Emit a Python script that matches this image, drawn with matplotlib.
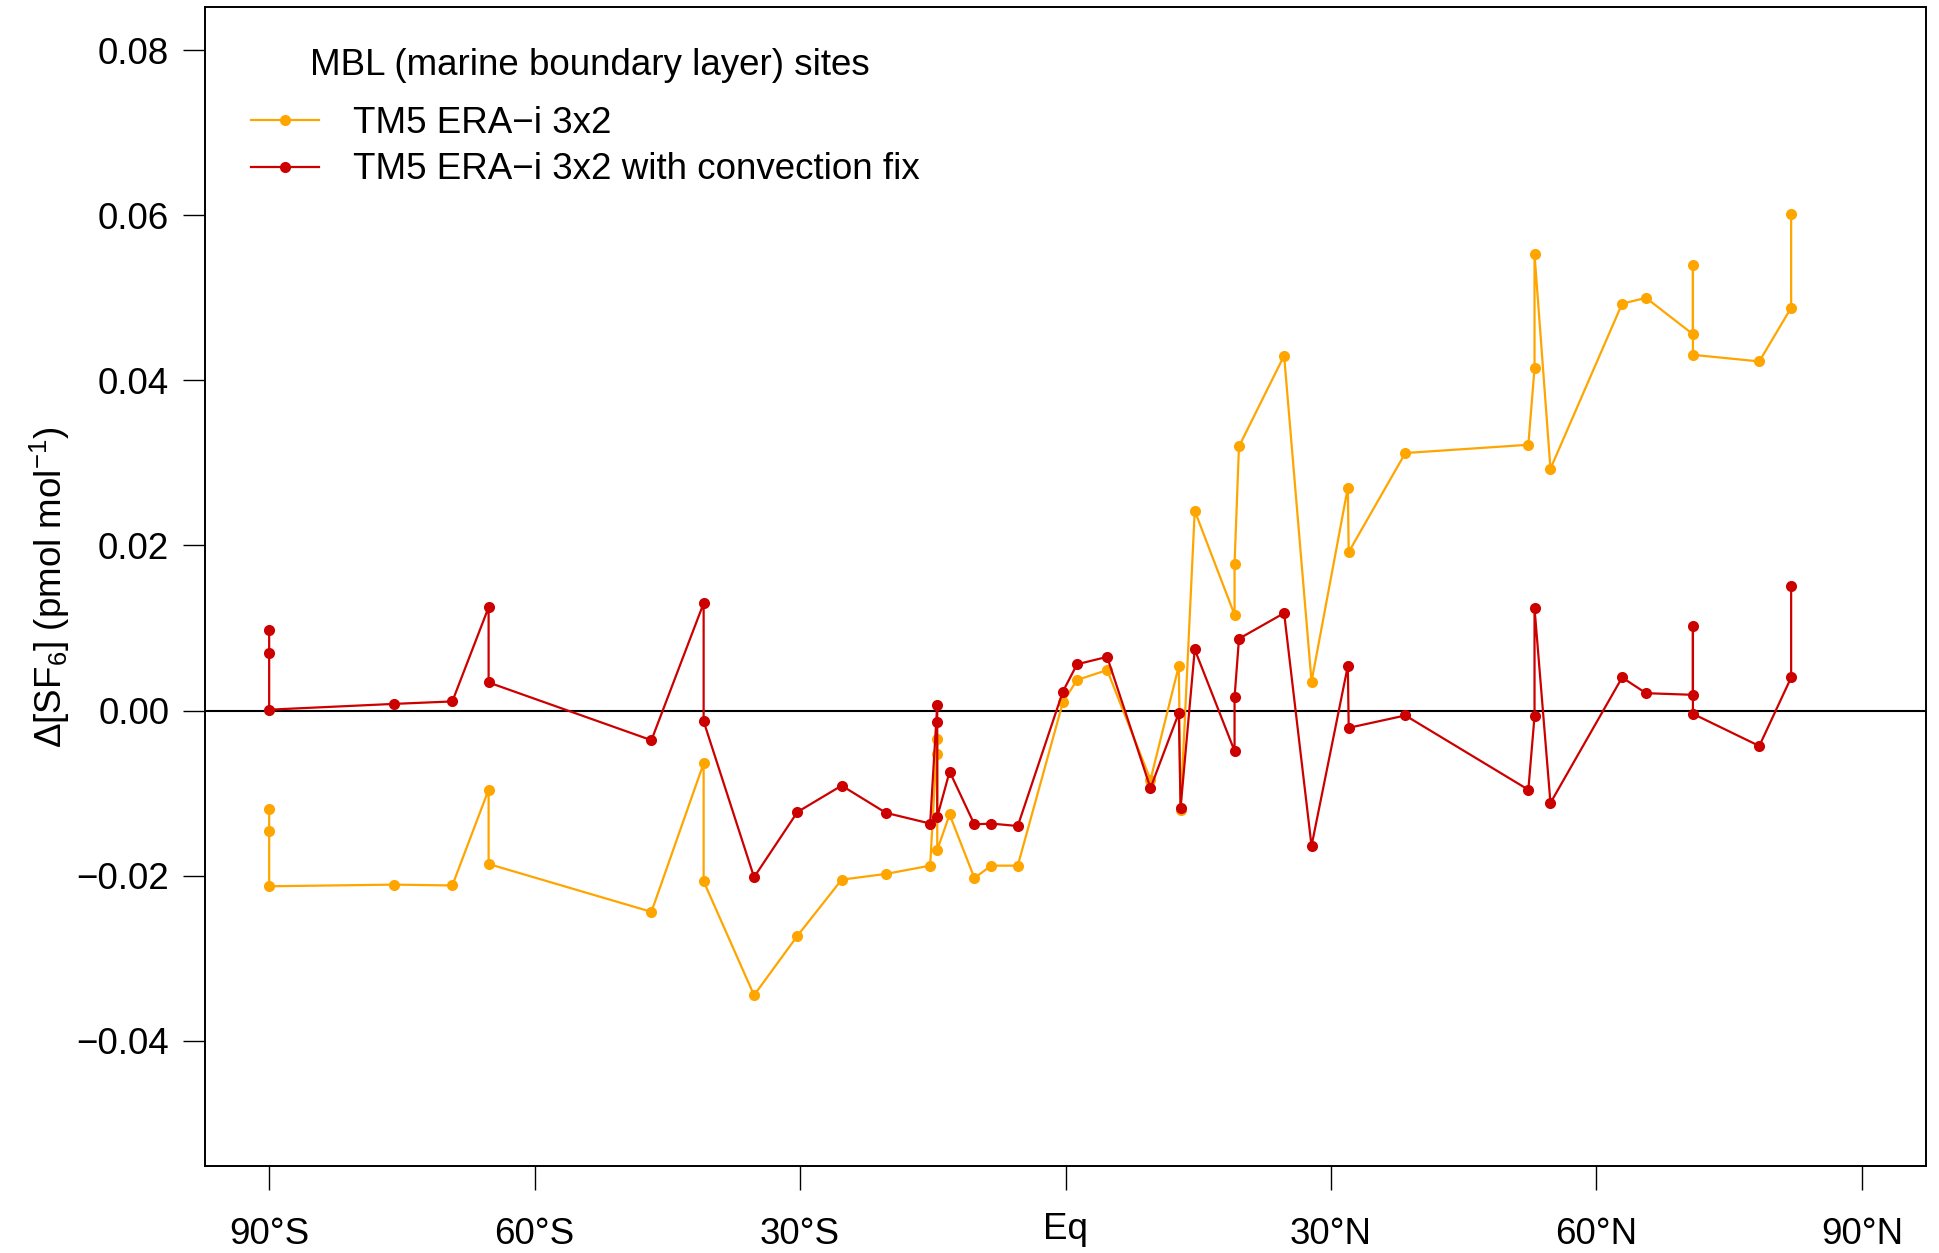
import matplotlib
matplotlib.use("Agg")
import matplotlib.pyplot as plt
from matplotlib.transforms import ScaledTranslation

plt.rcParams['font.family'] = ['Liberation Sans', 'DejaVu Sans']
plt.rcParams['mathtext.fontset'] = 'custom'
plt.rcParams['mathtext.rm'] = 'Liberation Sans'
plt.rcParams['mathtext.it'] = 'Liberation Sans:italic'

# site latitudes (deg), sorted south -> north, repeated where several sites share a latitude
lat = [-90.0, -90.0, -90.0, -75.9, -69.3, -65.2, -65.2, -46.8, -40.9, -40.9,
       -35.2, -30.3, -25.3, -20.3, -15.3, -14.5, -14.5, -14.5, -13.1, -10.3,
       -8.4, -5.4, -0.3, 1.3, 4.7, 9.6, 12.8, 13.0, 14.6, 19.1,
       19.1, 19.6, 24.7, 27.8, 31.9, 32.0, 38.4, 52.3, 53.0, 53.0,
       54.8, 62.9, 65.6, 70.9, 70.9, 70.9, 78.4, 82.0, 82.0]

# model - obs differences (pmol/mol)
era_3x2 = [-0.0119, -0.0146, -0.0213, -0.0211, -0.0212, -0.0096, -0.0186, -0.0244, -0.0064, -0.0207,
           -0.0345, -0.0273, -0.0205, -0.0198, -0.0188, -0.0034, -0.0053, -0.0169, -0.0126, -0.0203,
           -0.0188, -0.0188, 0.0010, 0.0037, 0.0049, -0.0084, 0.0054, -0.0120, 0.0242, 0.0116,
           0.0178, 0.0320, 0.0430, 0.0035, 0.0270, 0.0192, 0.0312, 0.0322, 0.0415, 0.0553,
           0.0293, 0.0493, 0.0500, 0.0456, 0.0540, 0.0431, 0.0423, 0.0488, 0.0602]

era_3x2_conv = [0.0098, 0.0070, 0.0001, 0.0008, 0.0011, 0.0125, 0.0034, -0.0036, 0.0130, -0.0013,
                -0.0202, -0.0123, -0.0091, -0.0124, -0.0137, 0.0007, -0.0014, -0.0129, -0.0074, -0.0138,
                -0.0137, -0.0140, 0.0023, 0.0056, 0.0065, -0.0094, -0.0003, -0.0118, 0.0074, -0.0049,
                0.0016, 0.0087, 0.0118, -0.0164, 0.0054, -0.0021, -0.0006, -0.0096, -0.0007, 0.0124,
                -0.0112, 0.0040, 0.0021, 0.0019, 0.0103, -0.0004, -0.0043, 0.0040, 0.0151]

xticks = [-90, -60, -30, 0, 30, 60, 90]
xticklabels = ["90°S", "60°S", "30°S", "Eq", "30°N", "60°N", "90°N"]
yticks = [-0.04, -0.02, 0.00, 0.02, 0.04, 0.06, 0.08]

FS = 26.5

fig = plt.figure(figsize=(19.4, 12.53), dpi=100)
ax = fig.add_axes([0.1059, 0.0694, 0.8867, 0.9247])

ax.axhline(0, color="black", lw=1.5, zorder=1)
ax.plot(lat, era_3x2, color="#FFA500", lw=1.6, marker="o", ms=8, mec="none",
        label="TM5 ERA\u2212i 3x2", zorder=2)
ax.plot(lat, era_3x2_conv, color="#CD0000", lw=1.6, marker="o", ms=8, mec="none",
        label="TM5 ERA\u2212i 3x2 with convection fix", zorder=3)

ax.set_xlim(-97.2, 97.2)
ax.set_ylim(-0.0552, 0.0852)
ax.set_xticks(xticks)
ax.set_xticklabels(xticklabels)
ax.set_yticks(yticks)
ax.set_yticklabels([f"{v:.2f}".replace("-", "\u2212") for v in yticks])
ax.tick_params(axis="both", labelsize=FS, width=1.0, direction="out")
ax.tick_params(axis="y", length=16, pad=10)
ax.tick_params(axis="x", length=17, pad=20)
for s in ax.spines.values():
    s.set_linewidth(1.4)

# "Eq" sits a little higher than the degree labels in the original
eq = ax.get_xticklabels()[3]
eq.set_transform(eq.get_transform() + ScaledTranslation(0, 4 / 72, fig.dpi_scale_trans))

ax.set_ylabel(r"$\Delta$[SF$_6$] (pmol mol$^{-1}$)", fontsize=FS, labelpad=3)

fig.text(590 / 1940, 1 - 75 / 1253, "MBL (marine boundary layer) sites",
         fontsize=FS, ha="center", va="baseline")
leg = ax.legend(loc="upper left", bbox_to_anchor=(251 / 1940, 1 - 106 / 1253),
                bbox_transform=fig.transFigure, frameon=False, fontsize=FS,
                borderpad=0, borderaxespad=0, handlelength=1.86, handletextpad=0.9,
                labelspacing=0.31)

fig.savefig("out.png", dpi=100)
